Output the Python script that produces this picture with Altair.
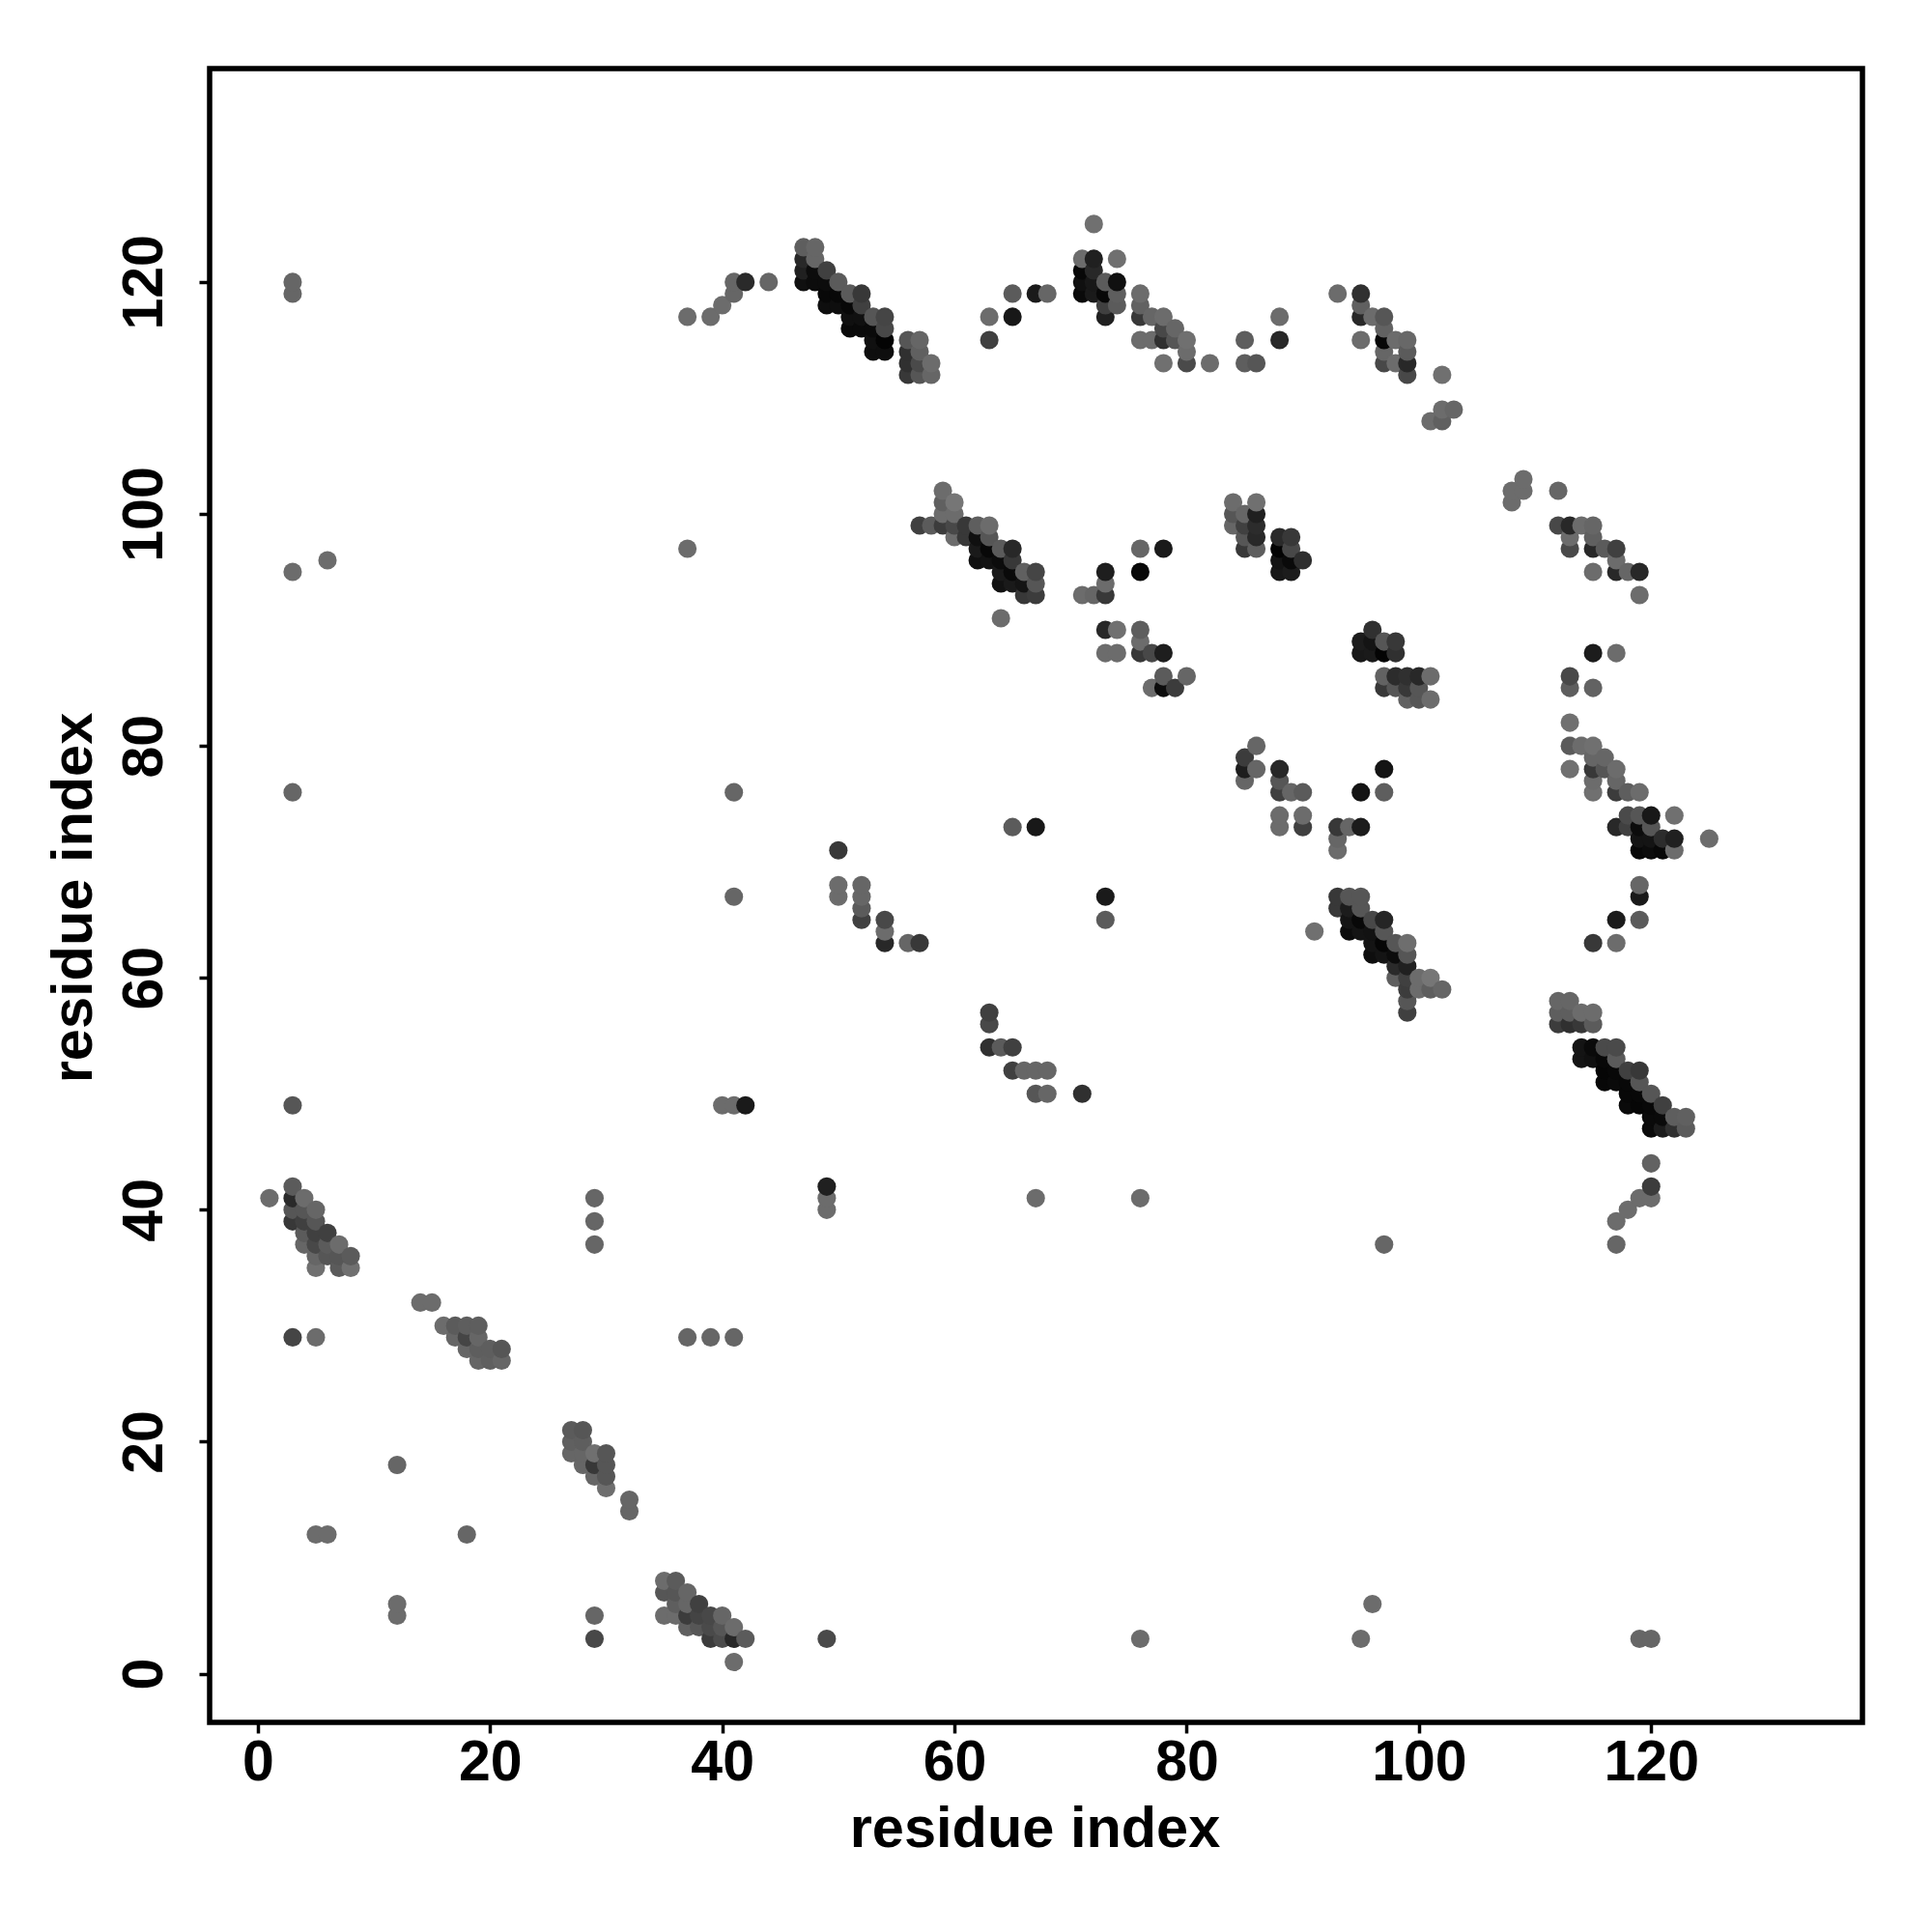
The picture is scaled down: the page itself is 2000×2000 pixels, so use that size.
import altair as alt
import pandas as pd

# (residue x, residue y, grey level)
cluster_low_a = [(1,41,0x66),(3,42,0x55),(3,41,0x2a),(4,41,0x66),(3,40,0x50),(4,40,0x50),(5,40,0x60),(3,39,0x38),(4,39,0x40),(5,39,0x50),
 (4,38,0x55),(5,38,0x40),(6,38,0x40),(4,37,0x60),(5,37,0x48),(6,37,0x55),(7,37,0x66),(5,36,0x60),(6,36,0x50),(7,36,0x50),(8,36,0x55),
 (5,35,0x6a),(7,35,0x55),(8,35,0x6a),(3,29,0x45),(5,29,0x66),(3,49,0x50)]
cluster_low_b = [(14,32,0x66),(15,32,0x66),(16,30,0x66),(17,30,0x55),(18,30,0x58),(19,30,0x58),(17,29,0x60),(18,29,0x45),(19,29,0x60),
 (18,28,0x60),(19,28,0x58),(20,28,0x58),(21,28,0x50),(19,27,0x60),(20,27,0x5a),(21,27,0x60)]
cluster_low_c = [(27,21,0x55),(28,21,0x50),(27,20,0x5a),(28,20,0x58),(27,19,0x60),(28,19,0x60),(29,19,0x6a),(30,19,0x50),(28,18,0x60),(29,18,0x38),
 (30,18,0x50),(29,17,0x60),(30,17,0x50),(30,16,0x68),(32,15,0x60),(32,14,0x60),(12,18,0x60),(18,12,0x60)]
cluster_low_d = [(35,8,0x66),(36,8,0x55),(35,7,0x50),(36,7,0x50),(37,7,0x60),(36,6,0x58),(37,6,0x60),(38,6,0x40),(35,5,0x66),(36,5,0x66),(37,5,0x3c),
 (38,5,0x44),(39,5,0x48),(40,5,0x60),(37,4,0x5a),(38,4,0x50),(39,4,0x4a),(40,4,0x50),(41,4,0x66),(39,3,0x3c),(40,3,0x4c),(41,3,0x28),(42,3,0x55),(41,1,0x66)]
isolated = [(49,3,0x4a),(76,3,0x66),(95,3,0x66),(96,6,0x66),(119,3,0x60),(120,3,0x60),(29,3,0x48),(29,5,0x60),(5,12,0x66),(6,12,0x66),(12,6,0x66),(12,5,0x66),
 (29,41,0x60),(29,39,0x60),(29,37,0x60),(37,29,0x60),(39,29,0x60),(41,29,0x60),(49,42,0x20),(49,41,0x66),(49,40,0x66),(67,41,0x66),(76,41,0x66),(97,37,0x60),
 (40,49,0x66),(41,49,0x66),(42,49,0x1a),(71,50,0x30),(63,57,0x40),(63,56,0x48),(63,54,0x30),(64,54,0x55),(65,54,0x40),(65,52,0x40),(66,52,0x60),(67,52,0x60),(68,52,0x60),
 (67,50,0x50),(68,50,0x60),(50,71,0x38),(50,68,0x66),(50,67,0x66),(52,68,0x60),(52,67,0x60),(52,66,0x55),(52,65,0x40),(54,65,0x48),(54,64,0x66),(54,63,0x28),(56,63,0x60),(57,63,0x38),
 (3,76,0x60),(41,76,0x60),(41,67,0x60),(3,95,0x66),(6,96,0x66),(37,97,0x66),(3,120,0x60),(3,119,0x60),(65,73,0x55),(67,73,0x18),(73,67,0x1a),(73,65,0x55),(91,64,0x6a)]
cluster_top_a = [(37,117,0x66),(39,117,0x66),(40,118,0x66),(41,119,0x60),(41,120,0x60),(42,120,0x2a),(44,120,0x60),
 (47,123,0x58),(48,123,0x60),(47,122,0x28),(48,122,0x60),(47,121,0x20),(48,121,0x0c),(49,121,0x40),(47,120,0x10),(48,120,0x0c),(49,120,0x0c),(50,120,0x55),
 (49,119,0x08),(50,119,0x08),(51,119,0x55),(52,119,0x38),(49,118,0x0e),(50,118,0x0e),(51,118,0x08),(52,118,0x40),(51,117,0x10),(52,117,0x10),(53,117,0x50),(54,117,0x45),
 (51,116,0x0a),(52,116,0x0a),(53,116,0x0a),(54,116,0x48),(53,115,0x10),(54,115,0x04),(53,114,0x0e),(54,114,0x0e),
 (56,115,0x50),(57,115,0x60),(56,114,0x30),(57,114,0x5a),(56,113,0x30),(57,113,0x4a),(58,113,0x66),(56,112,0x38),(57,112,0x50),(58,112,0x60),
 (63,117,0x66),(63,115,0x40),(65,119,0x55),(65,117,0x18),(67,119,0x1a),(68,119,0x60)]
cluster_top_b = [(72,125,0x6a),(71,122,0x66),(72,122,0x20),(74,122,0x6a),(71,121,0x08),(72,121,0x28),(71,120,0x10),(72,120,0x18),(73,120,0x55),(74,120,0x10),
 (71,119,0x0a),(72,119,0x1a),(73,119,0x08),(74,119,0x58),(73,118,0x40),(74,118,0x55),(73,117,0x20),(76,119,0x66),(76,118,0x5c),(76,117,0x38),(77,117,0x60),(78,117,0x66),
 (78,116,0x48),(79,116,0x60),(76,115,0x66),(77,115,0x66),(78,115,0x30),(79,115,0x50),(80,115,0x6a),(80,114,0x66),(78,113,0x6a),(80,113,0x4a),(82,113,0x66),
 (85,115,0x58),(85,113,0x58),(86,113,0x50),(88,117,0x66),(88,115,0x28)]
cluster_top_c = [(93,119,0x66),(95,119,0x30),(95,118,0x5a),(95,117,0x28),(96,117,0x66),(97,117,0x50),(97,116,0x5c),(95,115,0x66),(97,115,0x08),(98,115,0x66),(99,115,0x62),
 (97,114,0x60),(99,114,0x55),(97,113,0x48),(98,113,0x66),(99,113,0x28),(99,112,0x48),(102,112,0x6a),(102,109,0x66),(103,109,0x60),(101,108,0x66),(102,108,0x5a)]
cluster_mid_a = [(59,102,0x66),(59,101,0x5a),(60,101,0x70),(59,100,0x66),(60,100,0x66),(57,99,0x40),(58,99,0x55),(59,99,0x3c),(60,99,0x48),(61,99,0x38),(62,99,0x58),(63,99,0x66),
 (60,98,0x66),(61,98,0x38),(62,98,0x10),(63,98,0x50),(62,97,0x1a),(63,97,0x08),(64,97,0x55),(65,97,0x28),(62,96,0x10),(63,96,0x12),(64,96,0x0c),(65,96,0x38),
 (64,95,0x1a),(65,95,0x0a),(66,95,0x5a),(67,95,0x45),(64,94,0x12),(65,94,0x1a),(66,94,0x14),(67,94,0x50),(66,93,0x38),(67,93,0x3c),(64,91,0x66),
 (71,93,0x66),(72,93,0x60),(73,93,0x38),(73,94,0x66),(73,95,0x1e),(76,97,0x60),(78,97,0x1a),(76,95,0x08)]
cluster_mid_b = [(84,101,0x66),(86,101,0x6a),(84,100,0x50),(85,100,0x60),(86,100,0x20),(84,99,0x60),(85,99,0x40),(86,99,0x2c),(85,98,0x50),(86,98,0x28),(85,97,0x38),(86,97,0x58),
 (88,98,0x2a),(89,98,0x38),(88,97,0x04),(89,97,0x48),(88,96,0x14),(89,96,0x0a),(90,96,0x2e),(88,95,0x18),(89,95,0x1c),
 (73,90,0x28),(74,90,0x6a),(76,90,0x58),(76,89,0x66),(73,88,0x66),(74,88,0x66),(76,88,0x38),(77,88,0x48),(78,88,0x1e),(78,86,0x55),(80,86,0x60),(77,85,0x66),(78,85,0x0c),(79,85,0x3c),
 (96,90,0x30),(95,89,0x1c),(96,89,0x14),(97,89,0x50),(98,89,0x38),(95,88,0x18),(96,88,0x1a),(97,88,0x04),(98,88,0x30),
 (97,86,0x5c),(98,86,0x2c),(99,86,0x30),(100,86,0x28),(101,86,0x66),(97,85,0x38),(98,85,0x50),(99,85,0x38),(100,85,0x50),(99,84,0x5c),(100,84,0x50),(101,84,0x66)]
cluster_mid_c = [(85,79,0x3c),(85,78,0x1e),(86,80,0x60),(86,78,0x60),(85,77,0x60),(88,78,0x28),(88,77,0x50),(88,76,0x40),(89,76,0x60),(90,76,0x55),(88,74,0x66),(88,73,0x66),(90,74,0x66),(90,73,0x40),
 (93,73,0x38),(94,73,0x60),(95,73,0x1c),(93,72,0x60),(93,71,0x66),(95,76,0x14),(97,78,0x14),(97,76,0x58),
 (93,67,0x38),(94,67,0x50),(95,67,0x50),(93,66,0x38),(94,66,0x1c),(95,66,0x50),(94,65,0x14),(95,65,0x08),(96,65,0x48),(97,65,0x25),(94,64,0x0c),(95,64,0x14),(96,64,0x12),(97,64,0x50),
 (96,63,0x14),(97,63,0x06),(98,63,0x50),(99,63,0x68),(96,62,0x0e),(97,62,0x14),(98,62,0x0c),(99,62,0x50),(98,61,0x2a),(99,61,0x20),(98,60,0x58),(99,60,0x40),(100,60,0x66),(101,60,0x70),
 (99,59,0x3c),(100,59,0x66),(101,59,0x58),(102,59,0x60),(99,58,0x50),(99,57,0x40)]
cluster_right_a = [(108,102,0x66),(108,101,0x66),(109,103,0x66),(109,102,0x66),(112,102,0x60),(112,99,0x48),(113,99,0x28),(114,99,0x66),(115,99,0x60),(113,98,0x66),(115,98,0x5a),
 (113,97,0x4a),(115,97,0x28),(116,97,0x55),(117,97,0x40),(117,96,0x66),(115,95,0x66),(117,95,0x28),(118,95,0x60),(119,95,0x28),(119,93,0x66),(115,88,0x1c),(117,88,0x66),
 (113,86,0x48),(113,85,0x58),(115,85,0x5c),(113,82,0x6a),(113,80,0x55),(114,80,0x66),(115,80,0x6a),(115,79,0x60),(116,79,0x60),(113,78,0x6a),(115,78,0x38),(116,78,0x50),(117,78,0x66),
 (115,77,0x66),(117,77,0x60),(115,76,0x6a),(117,76,0x3c),(118,76,0x58),(119,76,0x66)]
cluster_right_b = [(118,74,0x4a),(119,74,0x50),(120,74,0x18),(122,74,0x6a),(117,73,0x28),(118,73,0x40),(119,73,0x0c),(120,73,0x50),(119,72,0x14),(120,72,0x14),(121,72,0x2c),(122,72,0x20),(125,72,0x66),
 (119,71,0x08),(120,71,0x0c),(121,71,0x08),(122,71,0x66),(119,68,0x60),(119,67,0x1a),(119,65,0x55),(117,65,0x1c),(115,63,0x38),(117,63,0x66)]
cluster_right_c = [(112,58,0x60),(113,58,0x60),(112,57,0x58),(113,57,0x58),(114,57,0x66),(115,57,0x66),(112,56,0x3c),(113,56,0x30),(114,56,0x38),(115,56,0x55),
 (114,54,0x14),(115,54,0x0a),(116,54,0x4a),(117,54,0x4a),(114,53,0x14),(115,53,0x10),(116,53,0x08),(117,53,0x55),(116,52,0x06),(117,52,0x08),(118,52,0x40),(119,52,0x38),
 (116,51,0x08),(117,51,0x0a),(118,51,0x08),(119,51,0x50),(118,50,0x08),(119,50,0x08),(120,50,0x50),(118,49,0x0a),(119,49,0x06),(120,49,0x08),(121,49,0x40),
 (120,48,0x0a),(121,48,0x0a),(122,48,0x58),(123,48,0x5a),(120,47,0x0a),(121,47,0x1c),(122,47,0x30),(123,47,0x55),
 (120,44,0x5c),(120,42,0x3c),(120,41,0x66),(119,41,0x66),(118,40,0x66),(117,39,0x66),(117,37,0x60)]

tick_values = [0, 20, 40, 60, 80, 100, 120]
axis_title = "residue index"

rows = (cluster_low_a + cluster_low_b + cluster_low_c + cluster_low_d + isolated + cluster_top_a + cluster_top_b
        + cluster_top_c + cluster_mid_a + cluster_mid_b + cluster_mid_c + cluster_right_a + cluster_right_b + cluster_right_c)
df = pd.DataFrame(rows, columns=["x", "y", "g"]).sort_values(["x", "y"])
df["color"] = ["#{0:02x}{0:02x}{0:02x}".format(v + 6 if v >= 0x50 else v) for v in df["g"]]

FONT = "Liberation Sans"
common = dict(values=tick_values, grid=False, domain=False, tickColor="black", tickWidth=3.5, tickSize=11,
              labelFont=FONT, labelFontWeight="bold", labelFontSize=59, labelColor="black",
              titleFont=FONT, titleFontWeight="bold", titleFontSize=59.5, titleColor="black",
              labelOverlap=False, labelFlush=False)

chart = alt.Chart(df).mark_circle(size=365, opacity=1, stroke=None).encode(
    x=alt.X("x:Q", scale=alt.Scale(domain=[-4.15, 138.2], nice=False, zero=False),
            axis=alt.Axis(title=axis_title, labelPadding=1, titlePadding=10, titleX=854, **common)),
    y=alt.Y("y:Q", scale=alt.Scale(domain=[-4.2, 138.4], nice=False, zero=False),
            axis=alt.Axis(title=axis_title, labelAngle=270, labelAlign="center", labelBaseline="bottom",
                          labelPadding=27, titlePadding=14, titleY=858, **common)),
    color=alt.Color("color:N", scale=None, legend=None),
).properties(
    width=1711, height=1712,
    autosize=alt.AutoSizeParams(type="none"),
    padding={"left": 209, "top": 63, "right": 60, "bottom": 200},
).configure_view(stroke="black", strokeWidth=5.5)

chart.save("out.html", embed_options={"renderer": "svg", "actions": False})
